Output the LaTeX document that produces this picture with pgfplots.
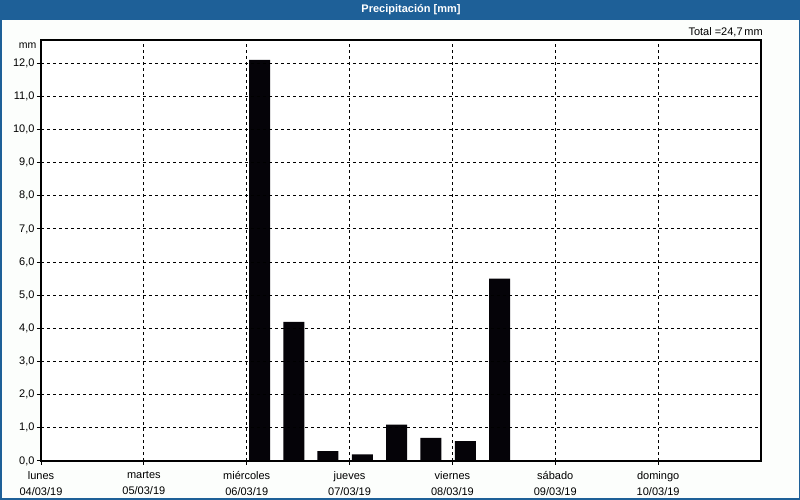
\documentclass[border=0pt]{standalone}
\usepackage{pgfplots}
\pgfplotsset{compat=1.18}
\usepackage{fontspec}
\setmainfont{Liberation Sans}
\definecolor{titleblue}{RGB}{30,96,152}
\definecolor{bgc}{RGB}{252,254,252}
\begin{document}
\begin{tikzpicture}[x=1pt,y=1pt]
\fill[bgc] (0,0) rectangle (800,500);
\fill[titleblue] (0,479.5) rectangle (800,500);
\draw[titleblue,line width=1.5pt] (0.75,0.75) rectangle (799.25,499);
\node[text=white,font=\fontsize{11}{13}\selectfont\bfseries] at (411,490) {Precipitación [mm]};
\node[anchor=east,inner sep=0pt,font=\fontsize{11}{13}\selectfont] at (763,468) {Total =24,7\,mm};
\node[anchor=east,inner sep=0pt,font=\fontsize{10.5}{13}\selectfont] at (36.5,454) {mm};
\begin{axis}[
  at={(41pt,39pt)}, anchor=south west,
  scale only axis, width=720pt, height=421pt,
  xmin=0, xmax=7, ymin=0, ymax=12.7,
  xtick={0,1,2,3,4,5,6},
  xticklabels={{lunes\\04/03/19},{martes\\05/03/19},{miércoles\\06/03/19},{jueves\\07/03/19},{viernes\\08/03/19},{sábado\\09/03/19},{domingo\\10/03/19}},
  xticklabel style={align=center,font=\fontsize{11}{16}\selectfont,yshift=-3pt},
  ytick={0,1,2,3,4,5,6,7,8,9,10,11,12},
  yticklabel style={font=\fontsize{11}{13}\selectfont,xshift=1pt,
    /pgf/number format/.cd,fixed,fixed zerofill,precision=1,use comma,assume math mode=true},
  tick pos=left, tick align=outside, major tick length=4pt,
  tick style={black,line width=1pt},
  grid=major,
  major grid style={black,line width=1pt,dash pattern=on 3pt off 3pt},
  axis line style={black,line width=1.2pt},
  axis on top,
  axis background/.style={fill=white},
]
\addplot[ybar,bar width=0.204,bar shift=0pt,fill={rgb,255:red,5;green,3;blue,8},draw=none] coordinates {
 (2.125,12.1) (2.458,4.2) (2.79,0.3) (3.125,0.2) (3.458,1.1) (3.79,0.7) (4.125,0.6) (4.458,5.5)
};
\end{axis}
\pgfresetboundingbox
\path[use as bounding box] (0,0) rectangle (800,500);
\end{tikzpicture}
\end{document}
